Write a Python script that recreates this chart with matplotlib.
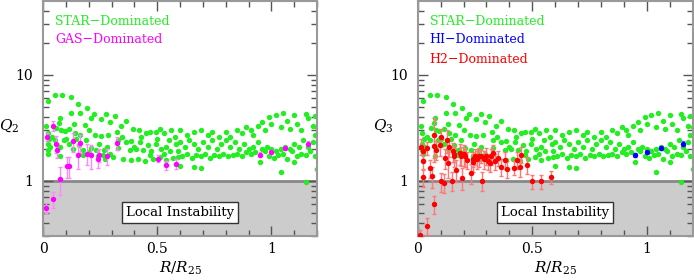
import matplotlib
matplotlib.use('Agg')
from matplotlib import pyplot as plt
from matplotlib.ticker import FixedLocator, FixedFormatter, MultipleLocator, NullFormatter

# STAR-Dominated points (same radii in both panels)
star_r = [0.023, 0.054, 0.084, 0.124, 0.153, 0.122, 0.163, 0.193, 0.223, 0.211, 0.252, 0.274, 0.293,
          0.134, 0.182, 0.073, 0.071, 0.013, 0.057, 0.078, 0.094, 0.115, 0.138, 0.161, 0.202, 0.228,
          0.252, 0.285, 0.020, 0.026, 0.031, 0.020, 0.054, 0.074, 0.113, 0.132, 0.158, 0.176, 0.208,
          0.234, 0.246, 0.266, 0.278, 0.023, 0.074, 0.176, 0.242, 0.263, 0.293, 0.100, 0.145, 0.190,
          0.020, 0.040, 0.090, 0.200, 0.270,
          0.313, 0.362, 0.395, 0.420, 0.450, 0.467, 0.494, 0.511, 0.530, 0.562, 0.577, 0.322, 0.329,
          0.347, 0.365, 0.380, 0.387, 0.409, 0.424, 0.438, 0.460, 0.474, 0.496, 0.518, 0.540, 0.555,
          0.584, 0.590, 0.307, 0.348, 0.387, 0.416, 0.445, 0.481, 0.511, 0.540, 0.569, 0.590, 0.340,
          0.430, 0.500, 0.550, 0.330, 0.400, 0.470, 0.530,
          0.60, 0.63, 0.66, 0.69, 0.72, 0.74, 0.77, 0.80, 0.82, 0.85, 0.87, 0.89, 0.91, 0.92, 0.94,
          0.96, 0.97, 0.99, 1.00, 1.02, 1.04, 1.05, 1.07, 1.08, 1.10, 1.11, 1.13, 1.15, 1.16, 1.18,
          1.19, 1.20,
          0.60, 0.62, 0.64, 0.66, 0.68, 0.70, 0.72, 0.74, 0.76, 0.78, 0.80, 0.82, 0.84, 0.86, 0.88,
          0.90, 0.92, 0.94, 0.96, 0.98, 1.00, 1.02, 1.04, 1.06, 1.08, 1.10, 1.12, 1.14, 1.16, 1.18,
          1.19,
          0.61, 0.63, 0.65, 0.67, 0.69, 0.71, 0.73, 0.75, 0.77, 0.79, 0.81, 0.83, 0.85, 0.87, 0.89,
          0.91, 0.93, 0.95, 0.97, 0.99, 1.01, 1.03, 1.05, 1.07, 1.09, 1.11, 1.13, 1.15, 1.17, 1.19,
          0.60, 0.66, 0.69, 1.04, 1.15, 1.20, 1.10]
star_q = [5.7, 6.5, 6.4, 6.2, 5.3, 4.4, 4.4, 4.85, 4.26, 3.9, 3.8, 4.3, 3.6,
          3.45, 3.35, 3.87, 3.5, 3.3, 3.18, 3.0, 2.92, 3.1, 2.8, 2.7, 3.0, 2.7,
          2.65, 2.7, 2.8, 2.47, 2.1, 1.96, 2.4, 2.1, 2.2, 2.0, 2.15, 1.96, 2.05,
          1.93, 2.2, 1.96, 2.1, 1.78, 1.7, 1.73, 1.7, 1.75, 1.8, 2.5, 2.45, 2.4,
          2.2, 2.6, 2.4, 1.85, 1.62,
          4.05, 3.7, 3.07, 3.0, 2.8, 2.9, 2.9, 3.1, 2.8, 3.0, 2.6, 2.9, 2.4,
          2.6, 2.3, 1.96, 2.35, 2.0, 2.3, 1.96, 2.15, 1.92, 2.2, 2.0, 2.1, 1.9,
          2.2, 1.9, 1.68, 1.6, 1.58, 1.6, 1.52, 1.6, 1.68, 1.58, 1.65, 1.68, 3.3,
          2.6, 2.5, 2.4, 2.05, 2.1, 1.75, 1.8,
          3.0, 2.7, 2.9, 3.0, 2.7, 2.9, 2.6, 2.9, 2.6, 3.0, 2.8, 3.2, 3.0, 2.7, 3.3,
          3.6, 3.0, 4.0, 3.4, 4.2, 3.2, 4.4, 3.7, 3.1, 4.2, 3.4, 3.0, 4.3, 3.9, 3.3,
          4.1, 3.2,
          2.3, 2.1, 2.4, 2.2, 2.0, 2.3, 2.1, 2.4, 2.0, 2.2, 2.4, 2.1, 2.3, 2.0, 2.2,
          2.0, 2.1, 2.3, 2.0, 2.1, 2.0, 1.9, 2.0, 2.1, 2.0, 2.2, 2.1, 2.4, 2.1, 2.3,
          2.7,
          1.7, 1.8, 1.65, 1.75, 1.7, 1.8, 1.65, 1.75, 1.7, 1.8, 1.7, 1.75, 1.8, 1.7, 1.85,
          1.8, 1.85, 1.5, 1.9, 1.7, 1.65, 1.75, 1.8, 1.6, 1.9, 1.7, 1.8, 1.75, 1.9, 1.7,
          1.38, 1.36, 1.33, 1.2, 0.98, 1.3, 1.5]

# GAS-Dominated points (left panel, Q2)
gas_r = [0.013, 0.042, 0.074, 0.042, 0.057, 0.063, 0.103, 0.114, 0.132, 0.151, 0.162, 0.191,
         0.212, 0.242, 0.245, 0.281, 0.322, 0.502, 0.540, 0.581, 0.950, 1.000, 1.060, 1.160, 0.016]
gas_q = [0.55, 0.67, 1.04, 3.3, 2.23, 1.93, 1.37, 1.37, 2.35, 1.73, 2.26, 1.8,
         1.73, 1.61, 1.76, 1.7, 2.27, 1.61, 1.4, 1.44, 1.76, 1.86, 2.03, 2.23, 2.6]
gas_err = [0.06, 0.12, 0.3, 0.35, 0.4, 0.3, 0.3, 0.3, 0.5, 0.45, 0.45, 0.4,
           0.45, 0.3, 0.25, 0.3, 0.3, 0.12, 0.15, 0.15, 0.1, 0.08, 0.08, 0.12, 0.25]

# HI-Dominated points (right panel, Q3)
hi_r = [0.950, 1.000, 1.060, 1.160]
hi_q = [1.76, 1.85, 2.03, 2.23]
hi_err = [0.08, 0.07, 0.08, 0.12]

# H2-Dominated points (right panel, Q3)
h2_r = [0.010, 0.042, 0.071, 0.016, 0.023, 0.023, 0.023, 0.042, 0.052, 0.062, 0.071, 0.071,
        0.081, 0.099, 0.102, 0.102, 0.113, 0.120, 0.129, 0.132, 0.136, 0.150, 0.153, 0.158,
        0.160, 0.168, 0.183, 0.187, 0.193, 0.200, 0.207, 0.216, 0.233, 0.240, 0.243, 0.250,
        0.259, 0.269, 0.276, 0.279, 0.288, 0.298, 0.308, 0.317, 0.320, 0.330, 0.338, 0.349,
        0.364, 0.381, 0.390, 0.419, 0.433, 0.448, 0.451, 0.477, 0.498, 0.539, 0.580]
h2_q = [0.31, 0.376, 0.6, 2.1, 1.89, 1.55, 1.08, 2.03, 1.32, 1.1, 2.14, 2.7,
        1.96, 2.15, 2.56, 0.99, 0.96, 1.64, 2.44, 1.47, 2.06, 1.0, 1.89, 1.8,
        1.7, 1.27, 1.82, 1.72, 1.07, 1.78, 1.7, 1.58, 1.18, 1.5, 1.6, 1.7,
        1.6, 1.7, 1.72, 1.0, 1.6, 1.72, 1.52, 1.47, 1.7, 1.82, 1.52, 1.64,
        1.36, 1.58, 1.3, 1.32, 1.58, 1.34, 1.76, 1.41, 0.99, 0.99, 1.08]
h2_err = [0.03, 0.07, 0.12, 0.35, 0.3, 0.3, 0.2, 0.3, 0.25, 0.25, 0.5, 1.2,
          0.4, 0.45, 0.5, 0.2, 0.2, 0.35, 0.6, 0.4, 0.4, 0.2, 0.4, 0.3,
          0.35, 0.3, 0.4, 0.35, 0.25, 0.4, 0.35, 0.3, 0.25, 0.3, 0.25, 0.3,
          0.3, 0.35, 0.25, 0.2, 0.3, 0.3, 0.25, 0.25, 0.3, 0.35, 0.25, 0.25,
          0.25, 0.3, 0.25, 0.2, 0.3, 0.25, 0.3, 0.25, 0.15, 0.15, 0.15]

GREEN = '#22ee22'
FRAME = '#999999'


def draw_panel(ax, ylabel, groups):
    """
    绘制一个面板
    :param ax: 坐标轴
    :param ylabel: Y轴标签
    :param groups: [(x, y, yerr, 颜色, 误差棒颜色, 图例文字), ...]
    """
    # 不稳定区域（灰色背景）
    ax.axhspan(0.1, 1.0, color='#cccccc', zorder=0)
    ax.axhline(1.0, color='#888888', lw=2, zorder=1)

    # 绿色点在最下层
    ax.plot(star_r, star_q, 'o', color=GREEN, ms=3.9, mec='none', zorder=2)
    for x, y, err, color, ecolor, _ in groups:
        ax.errorbar(x, y, yerr=err, fmt='o', color=color, ecolor=ecolor, ms=3.9, mec='none',
                    elinewidth=1, capsize=1.2, capthick=1, zorder=3)

    ax.set_yscale('log')
    ax.set_xlim(0, 1.2)
    ax.set_ylim(0.3, 50)

    ax.yaxis.set_major_locator(FixedLocator([1, 10]))
    ax.yaxis.set_major_formatter(FixedFormatter(['1', '10']))
    ax.yaxis.set_minor_locator(FixedLocator([0.3, 0.4, 0.5, 0.6, 0.7, 0.8, 0.9, 2, 3, 4, 5, 6, 7, 8, 9,
                                             20, 30, 40]))
    ax.yaxis.set_minor_formatter(NullFormatter())
    ax.xaxis.set_major_locator(FixedLocator([0, 0.5, 1]))
    ax.xaxis.set_major_formatter(FixedFormatter(['0', '0.5', '1']))
    ax.xaxis.set_minor_locator(MultipleLocator(0.1))
    ax.tick_params(which='both', direction='in', top=True, right=True, color='#555555',
                   labelsize=10)
    ax.tick_params(axis='x', pad=4)
    ax.tick_params(axis='y', pad=7)
    ax.tick_params(which='major', length=7, width=1)
    ax.tick_params(which='minor', length=4, width=1)
    for s in ax.spines.values():
        s.set_color(FRAME)
        s.set_linewidth(1.5)

    ax.text(0.6, 0.5, 'Local Instability', ha='center', va='center', fontsize=9.5, zorder=5,
            bbox=dict(boxstyle='square,pad=0.3', fc='white', ec='#333333', lw=1))

    # 图例文字
    ax.text(0.052, 32, 'STAR\u2212Dominated', color=GREEN, fontsize=9, va='center')
    legend_y = [21.8, 14.1]
    for i, g in enumerate(groups):
        ax.text(0.052, legend_y[i], g[5], color=g[3], fontsize=9, va='center')

    ax.set_ylabel(ylabel, rotation=0, fontsize=11, va='center')
    ax.yaxis.set_label_coords(-0.125, 0.47)
    ax.set_xlabel('$R/R_{25}$', fontsize=11, labelpad=3)


plt.rcParams['font.family'] = ['DejaVu Serif']
plt.rcParams['mathtext.fontset'] = 'dejavuserif'

fig = plt.figure(figsize=(6.94, 2.8), dpi=100)
ax1 = fig.add_axes([0.062, 0.157, 0.395, 0.84])
ax2 = fig.add_axes([0.602, 0.157, 0.396, 0.84])

draw_panel(ax1, '$Q_2$', [(gas_r, gas_q, gas_err, '#ff00ff', '#ff88ff', 'GAS\u2212Dominated')])
draw_panel(ax2, '$Q_3$', [(hi_r, hi_q, hi_err, '#0000ff', '#6666ff', 'HI\u2212Dominated'),
                          (h2_r, h2_q, h2_err, '#ff0000', '#ff7777', 'H2\u2212Dominated')])

plt.savefig('out.png', dpi=100)
